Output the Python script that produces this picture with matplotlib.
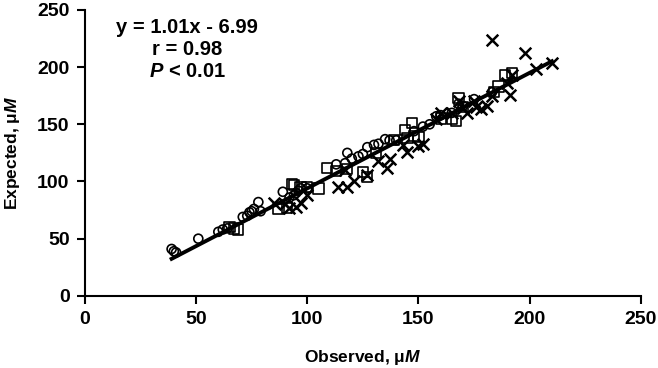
import numpy as np
import matplotlib
matplotlib.use("Agg")
import matplotlib.pyplot as plt

plt.rcParams['font.family'] = ['Liberation Sans', 'DejaVu Sans']
plt.rcParams['font.weight'] = 'bold'
plt.rcParams['mathtext.fontset'] = 'custom'
plt.rcParams['mathtext.it'] = 'Liberation Sans:bold:italic'
plt.rcParams['mathtext.rm'] = 'Liberation Sans:bold'

# circles
circ_x = [39, 40, 41, 51, 60, 62, 64, 71, 73, 74, 75, 76, 78, 79, 89, 92, 94, 95, 96, 97,
          100, 113, 117, 118, 120, 123, 125, 127, 130, 132, 135, 137, 140, 148, 152, 155,
          158, 160, 165, 168, 170, 175, 183]
circ_y = [41, 39, 38, 50, 56, 58, 59, 69, 70, 73, 74, 76, 82, 74, 91, 86, 88, 90, 92, 94,
          94, 115, 116, 125, 120, 122, 124, 130, 132, 133, 137, 136, 136, 144, 148, 150,
          157, 158, 160, 168, 166, 172, 178]
# squares
sq_x = [65, 67, 69, 87, 91, 93, 94, 97, 100, 105, 109, 113, 118, 125, 127, 131, 139, 144,
        145, 147, 148, 150, 160, 165, 167, 168, 170, 184, 186, 189, 192]
sq_y = [60, 59, 58, 76, 77, 98, 97, 95, 95, 94, 112, 109, 111, 108, 104, 125, 136, 145,
        138, 151, 140, 139, 155, 155, 153, 173, 165, 178, 183, 193, 195]
# crosses
cr_x = [85, 90, 92, 95, 97, 100, 114, 117, 118, 121, 127, 132, 136, 137, 143, 145, 150,
        152, 158, 160, 165, 168, 170, 172, 175, 176, 178, 181, 183, 183, 190, 191, 192,
        198, 203, 210]
cr_y = [81, 80, 77, 78, 81, 88, 95, 110, 95, 100, 106, 118, 112, 120, 132, 126, 131,
        133, 155, 160, 160, 170, 164, 160, 170, 165, 163, 166, 224, 175, 186, 176, 193,
        212, 198, 204]

slope, intercept = 1.01, -6.99

fig = plt.figure(figsize=(6.58, 3.68), dpi=100)
ax = fig.add_axes([0.129, 0.196, 0.845, 0.777])

ax.scatter(circ_x, circ_y, s=42, marker='o', facecolors='none', edgecolors='black', linewidths=1.2, zorder=3)
ax.scatter(sq_x, sq_y, s=55, marker='s', facecolors='none', edgecolors='black', linewidths=1.2, zorder=3)
ax.scatter(cr_x, cr_y, s=70, marker='x', color='black', linewidths=1.8, zorder=3)

allx = circ_x + sq_x + cr_x
fx = np.array([min(allx), max(allx)])
ax.plot(fx, slope * fx + intercept, color='black', lw=2.8, zorder=4)

ax.set_xlim(0, 250)
ax.set_ylim(0, 250)
ax.set_xticks(range(0, 251, 50))
ax.set_yticks(range(0, 251, 50))
for s in ['top', 'right']:
    ax.spines[s].set_visible(False)
for s in ['left', 'bottom']:
    ax.spines[s].set_linewidth(1.5)
ax.tick_params(direction='out', length=6, width=1.5, labelsize=14, pad=5)

ax.set_xlabel(r'Observed, μ$\mathit{M}$', fontsize=12.5, fontweight='bold', labelpad=14)
ax.set_ylabel(r'Expected, μ$\mathit{M}$', fontsize=12.5, fontweight='bold', labelpad=11)

ax.text(46, 235, 'y = 1.01x - 6.99', fontsize=14.5, fontweight='bold', ha='center', va='center')
ax.text(46, 215.5, 'r = 0.98', fontsize=14.5, fontweight='bold', ha='center', va='center')
ax.text(46, 196, r'$\mathit{P}$ < 0.01', fontsize=14.5, fontweight='bold', ha='center', va='center')

fig.savefig('out.png', dpi=100)
